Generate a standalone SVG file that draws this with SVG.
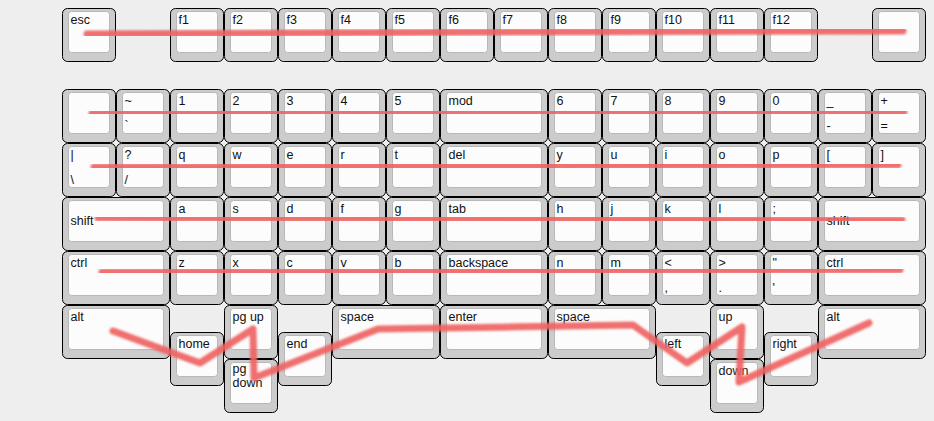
<svg xmlns="http://www.w3.org/2000/svg" width="934" height="421" viewBox="0 0 934 421">
<defs>
<style>
.o{fill:#cccccc;stroke:#000;stroke-width:1}
.i{fill:#fcfcfc;stroke:#b8b8b8;stroke-width:1}
text{font-family:"Liberation Sans",Arial,sans-serif;font-size:12.5px;fill:#111}
.ln{fill:none;stroke:#ef6363;stroke-opacity:0.92;stroke-width:7;stroke-linecap:round;stroke-linejoin:round;filter:url(#soft)}
</style>
<filter id="soft" x="-5%" y="-50%" width="110%" height="200%"><feGaussianBlur stdDeviation="0.8"/></filter>
<g id="k1"><rect class="o" x="0.5" y="0.5" width="53" height="53" rx="5"/><rect class="i" x="6.5" y="3.5" width="41" height="41" rx="3"/></g>
<g id="k2"><rect class="o" x="0.5" y="0.5" width="107" height="53" rx="5"/><rect class="i" x="6.5" y="3.5" width="95" height="41" rx="3"/></g>
</defs>
<rect width="934" height="421" fill="#eeeeee"/>
<g id="keys">
<g id="k-esc" transform="translate(62,8)"><use href="#k1"/><text x="8.5" y="16">esc</text></g>
<g id="k-f1" transform="translate(170,8)"><use href="#k1"/><text x="8.5" y="16">f1</text></g>
<g id="k-f2" transform="translate(224,8)"><use href="#k1"/><text x="8.5" y="16">f2</text></g>
<g id="k-f3" transform="translate(278,8)"><use href="#k1"/><text x="8.5" y="16">f3</text></g>
<g id="k-f4" transform="translate(332,8)"><use href="#k1"/><text x="8.5" y="16">f4</text></g>
<g id="k-f5" transform="translate(386,8)"><use href="#k1"/><text x="8.5" y="16">f5</text></g>
<g id="k-f6" transform="translate(440,8)"><use href="#k1"/><text x="8.5" y="16">f6</text></g>
<g id="k-f7" transform="translate(494,8)"><use href="#k1"/><text x="8.5" y="16">f7</text></g>
<g id="k-f8" transform="translate(548,8)"><use href="#k1"/><text x="8.5" y="16">f8</text></g>
<g id="k-f9" transform="translate(602,8)"><use href="#k1"/><text x="8.5" y="16">f9</text></g>
<g id="k-f10" transform="translate(656,8)"><use href="#k1"/><text x="8.5" y="16">f10</text></g>
<g id="k-f11" transform="translate(710,8)"><use href="#k1"/><text x="8.5" y="16">f11</text></g>
<g id="k-f12" transform="translate(764,8)"><use href="#k1"/><text x="8.5" y="16">f12</text></g>
<g id="k-blank0" transform="translate(872,8)"><use href="#k1"/></g>

<g id="k-blank1" transform="translate(62,89)"><use href="#k1"/></g>
<g id="k-tilde" transform="translate(116,89)"><use href="#k1"/><text x="8.5" y="16">~</text><text x="8.5" y="41">`</text></g>
<g id="k-1" transform="translate(170,89)"><use href="#k1"/><text x="8.5" y="16">1</text></g>
<g id="k-2" transform="translate(224,89)"><use href="#k1"/><text x="8.5" y="16">2</text></g>
<g id="k-3" transform="translate(278,89)"><use href="#k1"/><text x="8.5" y="16">3</text></g>
<g id="k-4" transform="translate(332,89)"><use href="#k1"/><text x="8.5" y="16">4</text></g>
<g id="k-5" transform="translate(386,89)"><use href="#k1"/><text x="8.5" y="16">5</text></g>
<g id="k-mod" transform="translate(440,89)"><use href="#k2"/><text x="8.5" y="16">mod</text></g>
<g id="k-6" transform="translate(548,89)"><use href="#k1"/><text x="8.5" y="16">6</text></g>
<g id="k-7" transform="translate(602,89)"><use href="#k1"/><text x="8.5" y="16">7</text></g>
<g id="k-8" transform="translate(656,89)"><use href="#k1"/><text x="8.5" y="16">8</text></g>
<g id="k-9" transform="translate(710,89)"><use href="#k1"/><text x="8.5" y="16">9</text></g>
<g id="k-0" transform="translate(764,89)"><use href="#k1"/><text x="8.5" y="16">0</text></g>
<g id="k-minus" transform="translate(818,89)"><use href="#k1"/><text x="8.5" y="16">_</text><text x="8.5" y="41">-</text></g>
<g id="k-plus" transform="translate(872,89)"><use href="#k1"/><text x="8.5" y="16">+</text><text x="8.5" y="41">=</text></g>

<g id="k-pipe" transform="translate(62,143)"><use href="#k1"/><text x="8.5" y="16">|</text><text x="8.5" y="41">\</text></g>
<g id="k-quest" transform="translate(116,143)"><use href="#k1"/><text x="8.5" y="16">?</text><text x="8.5" y="41">/</text></g>
<g id="k-q" transform="translate(170,143)"><use href="#k1"/><text x="8.5" y="16">q</text></g>
<g id="k-w" transform="translate(224,143)"><use href="#k1"/><text x="8.5" y="16">w</text></g>
<g id="k-e" transform="translate(278,143)"><use href="#k1"/><text x="8.5" y="16">e</text></g>
<g id="k-r" transform="translate(332,143)"><use href="#k1"/><text x="8.5" y="16">r</text></g>
<g id="k-t" transform="translate(386,143)"><use href="#k1"/><text x="8.5" y="16">t</text></g>
<g id="k-del" transform="translate(440,143)"><use href="#k2"/><text x="8.5" y="16">del</text></g>
<g id="k-y" transform="translate(548,143)"><use href="#k1"/><text x="8.5" y="16">y</text></g>
<g id="k-u" transform="translate(602,143)"><use href="#k1"/><text x="8.5" y="16">u</text></g>
<g id="k-i" transform="translate(656,143)"><use href="#k1"/><text x="8.5" y="16">i</text></g>
<g id="k-o" transform="translate(710,143)"><use href="#k1"/><text x="8.5" y="16">o</text></g>
<g id="k-p" transform="translate(764,143)"><use href="#k1"/><text x="8.5" y="16">p</text></g>
<g id="k-lbr" transform="translate(818,143)"><use href="#k1"/><text x="8.5" y="16">[</text></g>
<g id="k-rbr" transform="translate(872,143)"><use href="#k1"/><text x="8.5" y="16">]</text></g>

<g id="k-lshift" transform="translate(62,197)"><use href="#k2"/><text x="8.5" y="28">shift</text></g>
<g id="k-a" transform="translate(170,197)"><use href="#k1"/><text x="8.5" y="16">a</text></g>
<g id="k-s" transform="translate(224,197)"><use href="#k1"/><text x="8.5" y="16">s</text></g>
<g id="k-d" transform="translate(278,197)"><use href="#k1"/><text x="8.5" y="16">d</text></g>
<g id="k-f" transform="translate(332,197)"><use href="#k1"/><text x="8.5" y="16">f</text></g>
<g id="k-g" transform="translate(386,197)"><use href="#k1"/><text x="8.5" y="16">g</text></g>
<g id="k-tab" transform="translate(440,197)"><use href="#k2"/><text x="8.5" y="16">tab</text></g>
<g id="k-h" transform="translate(548,197)"><use href="#k1"/><text x="8.5" y="16">h</text></g>
<g id="k-j" transform="translate(602,197)"><use href="#k1"/><text x="8.5" y="16">j</text></g>
<g id="k-k" transform="translate(656,197)"><use href="#k1"/><text x="8.5" y="16">k</text></g>
<g id="k-l" transform="translate(710,197)"><use href="#k1"/><text x="8.5" y="16">l</text></g>
<g id="k-semi" transform="translate(764,197)"><use href="#k1"/><text x="8.5" y="16">;</text></g>
<g id="k-rshift" transform="translate(818,197)"><use href="#k2"/><text x="8.5" y="28">shift</text></g>

<g id="k-lctrl" transform="translate(62,251)"><use href="#k2"/><text x="8.5" y="16">ctrl</text></g>
<g id="k-z" transform="translate(170,251)"><use href="#k1"/><text x="8.5" y="16">z</text></g>
<g id="k-x" transform="translate(224,251)"><use href="#k1"/><text x="8.5" y="16">x</text></g>
<g id="k-c" transform="translate(278,251)"><use href="#k1"/><text x="8.5" y="16">c</text></g>
<g id="k-v" transform="translate(332,251)"><use href="#k1"/><text x="8.5" y="16">v</text></g>
<g id="k-b" transform="translate(386,251)"><use href="#k1"/><text x="8.5" y="16">b</text></g>
<g id="k-bksp" transform="translate(440,251)"><use href="#k2"/><text x="8.5" y="16">backspace</text></g>
<g id="k-n" transform="translate(548,251)"><use href="#k1"/><text x="8.5" y="16">n</text></g>
<g id="k-m" transform="translate(602,251)"><use href="#k1"/><text x="8.5" y="16">m</text></g>
<g id="k-comma" transform="translate(656,251)"><use href="#k1"/><text x="8.5" y="16">&lt;</text><text x="8.5" y="41">,</text></g>
<g id="k-period" transform="translate(710,251)"><use href="#k1"/><text x="8.5" y="16">&gt;</text><text x="8.5" y="41">.</text></g>
<g id="k-quote" transform="translate(764,251)"><use href="#k1"/><text x="8.5" y="16">"</text><text x="8.5" y="41">'</text></g>
<g id="k-rctrl" transform="translate(818,251)"><use href="#k2"/><text x="8.5" y="16">ctrl</text></g>

<g id="k-lalt" transform="translate(62,305)"><use href="#k2"/><text x="8.5" y="16">alt</text></g>
<g id="k-home" transform="translate(170,332)"><use href="#k1"/><text x="8.5" y="16">home</text></g>
<g id="k-pgup" transform="translate(224,305)"><use href="#k1"/><text x="8.5" y="16">pg up</text></g>
<g id="k-pgdn" transform="translate(224,359)"><use href="#k1"/><text x="8.5" y="14">pg</text><text x="8.5" y="28">down</text></g>
<g id="k-end" transform="translate(278,332)"><use href="#k1"/><text x="8.5" y="16">end</text></g>
<g id="k-space1" transform="translate(332,305)"><use href="#k2"/><text x="8.5" y="16">space</text></g>
<g id="k-enter" transform="translate(440,305)"><use href="#k2"/><text x="8.5" y="16">enter</text></g>
<g id="k-space2" transform="translate(548,305)"><use href="#k2"/><text x="8.5" y="16">space</text></g>
<g id="k-left" transform="translate(656,332)"><use href="#k1"/><text x="8.5" y="16">left</text></g>
<g id="k-up" transform="translate(710,305)"><use href="#k1"/><text x="8.5" y="16">up</text></g>
<g id="k-down" transform="translate(710,359)"><use href="#k1"/><text x="8.5" y="16">down</text></g>
<g id="k-right" transform="translate(764,332)"><use href="#k1"/><text x="8.5" y="16">right</text></g>
<g id="k-ralt" transform="translate(818,305)"><use href="#k2"/><text x="8.5" y="16">alt</text></g>
</g>
<g id="connectors">
<polyline class="ln" points="87,34 500,32 903,31"/>
<polyline class="ln" points="92,113 500,112 904,112"/>
<polyline class="ln" points="94,167 500,166 898,165"/>
<polyline class="ln" points="98,218 500,219 902,220"/>
<polyline class="ln" points="102,272 500,271 900,270"/>
<polyline class="ln" points="113,331 200,363 253,329 254,378 378,329 633,325 687,363 742,327 739,382 869,323"/>
</g>
</svg>
